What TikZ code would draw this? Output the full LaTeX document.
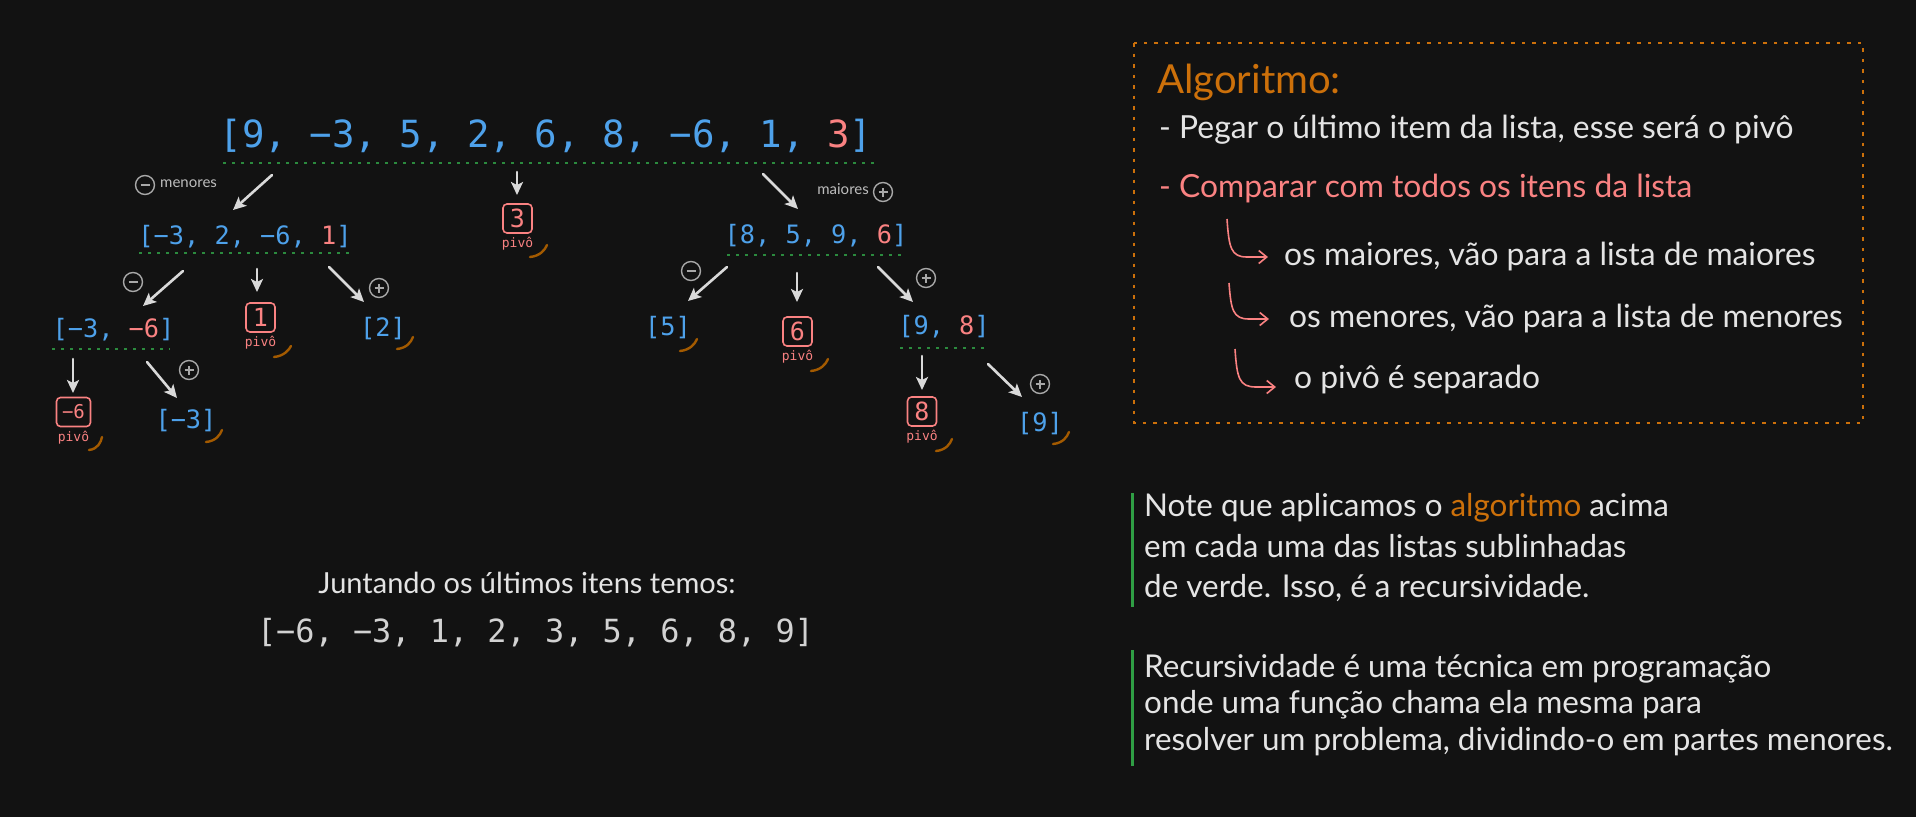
\documentclass[tikz,border=0pt]{standalone}
\usepackage{fontspec}
\usetikzlibrary{arrows.meta,calc}
\newfontfamily\hand{Lato}
\newfontfamily\mono{DejaVu Sans Mono}
\definecolor{bg}{HTML}{121212}
\definecolor{lblue}{HTML}{4EA1EA}
\definecolor{lred}{HTML}{FA8282}
\definecolor{txt}{HTML}{E4E4E4}
\definecolor{fgray}{HTML}{D2D2D2}
\definecolor{algor}{HTML}{CC700A}
\definecolor{tickor}{HTML}{A35A00}
\definecolor{arrgray}{HTML}{D9D9D9}
\definecolor{circgray}{HTML}{A8A8A8}
\definecolor{lblgray}{HTML}{BDBDBD}
\definecolor{ugreen}{HTML}{2B8A3E}
\definecolor{bgreen}{HTML}{2F9E44}
\tikzset{
  arr/.style={draw=arrgray, line width=2.6pt, line cap=round, -{Stealth[length=13pt,width=12pt,inset=3pt]}},
  uline/.style={draw=ugreen, line width=2pt, dash pattern=on 3pt off 6pt},
  symc/.style={circle, draw=circgray, line width=1.4pt, minimum size=19pt, inner sep=0pt},
  minussym/.style={symc, path picture={\draw[circgray,line width=1.8pt] ([xshift=-4.5pt]path picture bounding box.center) -- ([xshift=4.5pt]path picture bounding box.center);}},
  plussym/.style={symc, path picture={\draw[circgray,line width=1.8pt] ([xshift=-4.5pt]path picture bounding box.center) -- ([xshift=4.5pt]path picture bounding box.center) ([yshift=-4.5pt]path picture bounding box.center) -- ([yshift=4.5pt]path picture bounding box.center);}},
  biglist/.style={font=\mono\fontsize{37.4}{40}\selectfont, text=lblue, anchor=base, inner sep=0pt},
  midlist/.style={font=\mono\fontsize{25.3}{28}\selectfont, text=lblue, anchor=base, inner sep=0pt},
  pivbox/.style={draw=lred, rounded corners=4pt, line width=1.6pt, minimum width=29pt, minimum height=29pt, inner sep=0pt, text=lred, font=\mono\fontsize{25}{25}\selectfont},
  pivlbl/.style={font=\mono\fontsize{13}{13}\selectfont, text=lred, anchor=base, inner sep=0pt},
  tickst/.style={draw=tickor, line width=2.4pt, line cap=round},
  smalllbl/.style={font=\hand\fontsize{15}{15}\selectfont, text=lblgray, inner sep=0pt},
  boxtxt/.style={font=\hand\fontsize{31.8}{34}\selectfont, text=txt, anchor=base west, inner sep=0pt},
  notetxt/.style={font=\hand\fontsize{31.4}{34}\selectfont, text=txt, anchor=base west, inner sep=0pt},
  hook/.style={draw=lred, line width=1.6pt, -{Straight Barb[length=8pt,width=13pt]}},
}
\begin{document}
\begin{tikzpicture}[x=1pt,y=-1pt]
\useasboundingbox (0,0) rectangle (1916,817);
\fill[bg] (0,0) rectangle (1916,817);

% ---------- level 1 ----------
\node[biglist] (L0) at (546,147) {[9, −3, 5, 2, 6, 8, −6, 1, \textcolor{lred}{3}]};
\draw[uline] (223,163) -- (877,163);

\node[minussym] (c1) at (145,185) {};
\node[smalllbl, anchor=mid west] (men) at (160,185) {menores};
\node[plussym] (c2) at (883,192) {};
\node[smalllbl, anchor=mid east] (mai) at (869,192) {maiores};

\coordinate (a1s) at (272,175); \coordinate (a1e) at (233,210);
\coordinate (a2s) at (517,172); \coordinate (a2e) at (517,195);
\coordinate (a3s) at (763,174); \coordinate (a3e) at (798,209);
\draw[arr] (a1s) -- (a1e);
\draw[arr] (a2s) -- (a2e);
\draw[arr] (a3s) -- (a3e);

% ---------- level 2 ----------
\node[midlist] (L1a) at (245,244) {[−3, 2, −6, \textcolor{lred}{1}]};
\draw[uline] (139,253) -- (349,253);
\node[pivbox] (p3) at (517.5,218.5) {3};
\node[pivlbl] (p3l) at (517.5,247) {pivô};
\draw[tickst] (530,257) .. controls (540,256) and (545,250) .. (547,245);
\node[midlist] (L1b) at (816,243) {[8, 5, 9, \textcolor{lred}{6}]};
\draw[uline] (727,255) -- (902,255);

% arrows from [-3, 2, -6, 1]
\node[minussym] (c3) at (133,282) {};
\node[plussym] (c4) at (379,288) {};
\coordinate (b1s) at (183,271); \coordinate (b1e) at (143,306);
\coordinate (b2s) at (257,269); \coordinate (b2e) at (257,292);
\coordinate (b3s) at (329,267); \coordinate (b3e) at (364,302);
\draw[arr] (b1s) -- (b1e);
\draw[arr] (b2s) -- (b2e);
\draw[arr] (b3s) -- (b3e);

% arrows from [8, 5, 9, 6]
\node[minussym] (c5) at (691,271) {};
\node[plussym] (c6) at (926,278) {};
\coordinate (d1s) at (727,267); \coordinate (d1e) at (688,301);
\coordinate (d2s) at (797,273); \coordinate (d2e) at (797,302);
\coordinate (d3s) at (878,267); \coordinate (d3e) at (913,302);
\draw[arr] (d1s) -- (d1e);
\draw[arr] (d2s) -- (d2e);
\draw[arr] (d3s) -- (d3e);

% ---------- level 3 ----------
\node[midlist] (L2a) at (113.5,337) {[−3, \textcolor{lred}{−6}]};
\draw[uline] (52,349) -- (170,349);
\node[pivbox] (p1) at (260.5,317.5) {1};
\node[pivlbl] (p1l) at (260.5,346) {pivô};
\draw[tickst] (274,357) .. controls (284,356) and (289,350) .. (291,346);
\node[midlist] (L2b) at (383,336) {[2]};
\draw[tickst] (397,349) .. controls (407,348) and (411,342) .. (413,337);

\node[midlist] (L2c) at (668,335) {[5]};
\draw[tickst] (680,351) .. controls (690,350) and (695,344) .. (697,339);
\node[pivbox] (p6) at (797.5,331.5) {6};
\node[pivlbl] (p6l) at (797.5,360) {pivô};
\draw[tickst] (811,371) .. controls (821,370) and (826,364) .. (828,359);
\node[midlist] (L2d) at (944,334) {[9, \textcolor{lred}{8}]};
\draw[uline] (900,348) -- (988,348);

% arrows from [-3, -6]
\node[plussym] (c7) at (189,370) {};
\coordinate (e1s) at (73,359); \coordinate (e1e) at (73,393);
\coordinate (e2s) at (147,362); \coordinate (e2e) at (177,398);
\draw[arr] (e1s) -- (e1e);
\draw[arr] (e2s) -- (e2e);

% arrows from [9, 8]
\node[plussym] (c8) at (1040,384) {};
\coordinate (f1s) at (922,356); \coordinate (f1e) at (922,390);
\coordinate (f2s) at (988,364); \coordinate (f2e) at (1022,397);
\draw[arr] (f1s) -- (f1e);
\draw[arr] (f2s) -- (f2e);

% ---------- level 4 ----------
\node[pivbox, minimum width=34pt, font=\mono\fontsize{19}{19}\selectfont] (pm6) at (73.5,412) {−6};
\node[pivlbl] (pm6l) at (73.5,441) {pivô};
\draw[tickst] (89,450) .. controls (98,449) and (101,442) .. (102,437);
\node[midlist] (L3a) at (186,428) {[−3]};
\draw[tickst] (206,442) .. controls (216,441) and (220,435) .. (222,430);

\node[pivbox] (p8) at (922,411.5) {8};
\node[pivlbl] (p8l) at (922,440) {pivô};
\draw[tickst] (936,451) .. controls (946,450) and (950,444) .. (952,439);
\node[midlist] (L3b) at (1040,431) {[9]};
\draw[tickst] (1053,444) .. controls (1063,443) and (1067,437) .. (1069,432);

% ---------- result ----------
\node[font=\hand\fontsize{29}{32}\selectfont, text=txt, anchor=base, inner sep=0pt] (jt) at (527,593) {Juntando os últimos itens temos:};
\node[font=\mono\fontsize{31.9}{34}\selectfont, text=fgray, anchor=base, inner sep=0pt] (res) at (535.5,642) {[−6, −3, 1, 2, 3, 5, 6, 8, 9]};

% ---------- algorithm box ----------
\draw[draw=algor, line width=2pt, dash pattern=on 3.5pt off 7pt] (1134,43) rectangle (1863,423);
\node[font=\hand\fontsize{40}{44}\selectfont, text=algor, anchor=base west, inner sep=0pt] (alg) at (1157,93) {Algoritmo:};
\node[boxtxt] (t1) at (1159,138) {- Pegar o último item da lista, esse será o pivô};
\node[boxtxt, text=lred] (t2) at (1159,197) {- Comparar com todos os itens da lista};
\coordinate (h1s) at (1227,219); \coordinate (h1e) at (1268,257);
\coordinate (h2s) at (1229,283); \coordinate (h2e) at (1269,319);
\coordinate (h3s) at (1235,349); \coordinate (h3e) at (1276,387);
\draw[hook] (h1s) .. controls (1229,248) and (1231,257) .. (1247,257) -- (h1e);
\draw[hook] (h2s) .. controls (1231,310) and (1233,319) .. (1249,319) -- (h2e);
\draw[hook] (h3s) .. controls (1237,378) and (1239,387) .. (1256,387) -- (h3e);
\node[boxtxt] (t3) at (1284,265) {os maiores, vão para a lista de maiores};
\node[boxtxt] (t4) at (1289,327) {os menores, vão para a lista de menores};
\node[boxtxt] (t5) at (1294,388) {o pivô é separado};

% ---------- notes ----------
\draw[draw=bgreen, line width=3pt] (1132,493) -- (1132,607);
\node[notetxt] (n1) at (1144,516) {Note que aplicamos o \textcolor{algor}{algoritmo} acima};
\node[notetxt] (n2) at (1144,557) {em cada uma das listas sublinhadas};
\node[notetxt] (n3) at (1144,597) {de verde. Isso, é a recursividade.};
\draw[draw=bgreen, line width=3pt] (1132,650) -- (1132,766);
\node[notetxt] (n4) at (1144,677) {Recursividade é uma técnica em programação};
\node[notetxt] (n5) at (1144,713) {onde uma função chama ela mesma para};
\node[notetxt] (n6) at (1144,750) {resolver um problema, dividindo-o em partes menores.};
\end{tikzpicture}
\end{document}
